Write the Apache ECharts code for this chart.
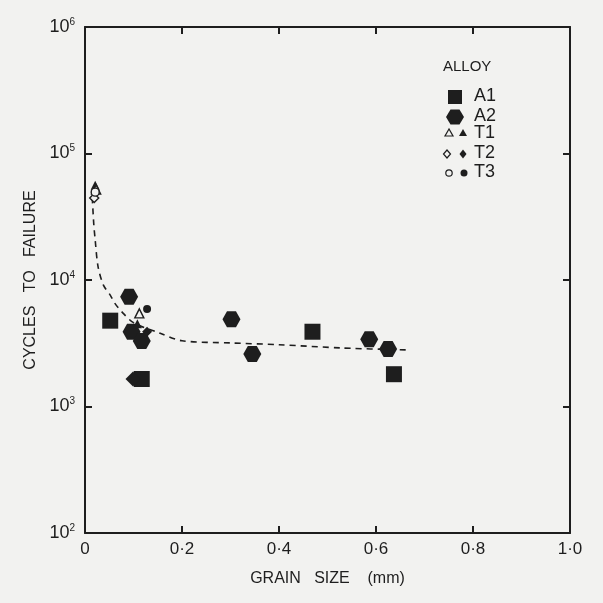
<!DOCTYPE html>
<html>
<head>
<meta charset="utf-8">
<script src="https://cdn.jsdelivr.net/npm/echarts@6/dist/echarts.min.js"></script>
<style>
  html, body { margin: 0; padding: 0; background: #f2f2f0; }
  #chart { width: 603px; height: 603px; }
</style>
</head>
<body>
<div id="chart"></div>
<script>
// grain size (mm), cycles to failure
var alloyA1 = [[0.052, 4770], [0.117, 1650], [0.469, 3900], [0.637, 1800]];
var alloyA2 = [[0.091, 7380], [0.096, 3900], [0.117, 3300], [0.302, 4890], [0.345, 2600], [0.586, 3400], [0.625, 2850]];
var t1Open = [[0.023, 52000], [0.112, 5450]];
var t1Filled = [[0.021, 56000], [0.108, 4500]];
var t2Open = [[0.019, 44500]];
var t2Filled = [[0.099, 1650], [0.128, 3900]];
var t3Open = [[0.021, 49500]];
var t3Filled = [[0.128, 5900]];
var fitCurve = [[0.015, 45000], [0.018, 28000], [0.021, 20700], [0.027, 12700], [0.038, 9100], [0.052, 7600],
  [0.062, 6500], [0.076, 5600], [0.10, 4600], [0.155, 3790], [0.20, 3310], [0.30, 3180], [0.40, 3080],
  [0.53, 2900], [0.666, 2800]];
var xTicks = [0, 0.2, 0.4, 0.6, 0.8, 1.0];

var ink = '#1e1e1e';
var paper = '#f2f2f0';
var hexPath = 'path://M-10,0L-5,-8.66L5,-8.66L10,0L5,8.66L-5,8.66Z';
var font = 'Liberation Sans';

function scatter(name, data, symbol, size, filled) {
  return {
    name: name, type: 'scatter', data: data, symbol: symbol, symbolSize: size,
    xAxisIndex: 0, yAxisIndex: 0,
    itemStyle: filled ? { color: ink, opacity: 1 } : { color: paper, borderColor: ink, borderWidth: 1.4, opacity: 1 },
    z: filled ? 4 : 5
  };
}

var chart = echarts.init(document.getElementById('chart'));
var axisLine = { show: true, onZero: false, lineStyle: { color: ink, width: 2 } };
var tick = { show: true, inside: true, length: 7, lineStyle: { color: ink, width: 2 } };

// legend block on the right
var lx = 455, legend = [
  { type: 'text', left: 443, top: 59, style: { text: 'ALLOY', font: '15px ' + font, fill: ink } },
  { type: 'rect', shape: { x: lx - 7, y: 90, width: 14, height: 14 }, style: { fill: ink } },
  { type: 'polygon', shape: { points: [[lx - 9, 117], [lx - 4.5, 109.5], [lx + 4.5, 109.5], [lx + 9, 117], [lx + 4.5, 124.5], [lx - 4.5, 124.5]] }, style: { fill: ink } },
  { type: 'polygon', shape: { points: [[449, 129], [445, 136], [453, 136]] }, style: { fill: paper, stroke: ink, lineWidth: 1.2 } },
  { type: 'polygon', shape: { points: [[463, 129], [459, 136], [467, 136]] }, style: { fill: ink } },
  { type: 'polygon', shape: { points: [[447, 150], [450.5, 154], [447, 158], [443.5, 154]] }, style: { fill: paper, stroke: ink, lineWidth: 1.2 } },
  { type: 'polygon', shape: { points: [[463, 149.5], [466.5, 154], [463, 158.5], [459.5, 154]] }, style: { fill: ink } },
  { type: 'circle', shape: { cx: 449, cy: 173, r: 3.2 }, style: { fill: paper, stroke: ink, lineWidth: 1.2 } },
  { type: 'circle', shape: { cx: 464, cy: 173, r: 3.5 }, style: { fill: ink } }
];
['A1', 'A2', 'T1', 'T2', 'T3'].forEach(function (t, i) {
  var ys = [97, 117, 134, 154, 173];
  legend.push({ type: 'text', left: 474, top: ys[i] - 10, style: { text: t, font: '18px ' + font, fill: ink } });
});

chart.setOption({
  backgroundColor: paper,
  animation: false,
  grid: { left: 85, right: 33, top: 27, bottom: 70 },
  xAxis: [{
    type: 'value', min: 0, max: 1, interval: 0.2, position: 'bottom',
    name: 'GRAIN   SIZE    (mm)', nameLocation: 'middle', nameGap: 38,
    nameTextStyle: { color: ink, fontSize: 16, fontFamily: font },
    axisLine: axisLine, axisTick: tick, splitLine: { show: false },
    axisLabel: {
      color: ink, fontSize: 17, fontFamily: font, margin: 8,
      formatter: function (v) { return v === 0 ? '0' : v.toFixed(1).replace('.', '·'); }
    }
  }, {
    type: 'value', min: 0, max: 1, interval: 0.2, position: 'top',
    axisLine: axisLine, axisTick: tick, axisLabel: { show: false }, splitLine: { show: false }
  }],
  yAxis: [{
    type: 'log', logBase: 10, min: 100, max: 1000000, position: 'left',
    name: 'CYCLES   TO   FAILURE', nameLocation: 'middle', nameGap: 45, nameRotate: 90,
    nameTextStyle: { color: ink, fontSize: 16, fontFamily: font },
    axisLine: axisLine, axisTick: tick, splitLine: { show: false }, minorTick: { show: false },
    axisLabel: {
      color: ink, fontSize: 18, fontFamily: font, margin: 10,
      formatter: function (v) { return '10{s|' + Math.round(Math.log10(v)) + '}'; },
      rich: { s: { fontSize: 10, fontFamily: font, color: ink, verticalAlign: 'top', padding: [0, 0, 10, 0] } }
    }
  }, {
    type: 'log', logBase: 10, min: 100, max: 1000000, position: 'right',
    axisLine: axisLine, axisTick: tick, axisLabel: { show: false }, splitLine: { show: false }
  }],
  graphic: legend,
  series: [
    {
      name: 'fit', type: 'line', data: fitCurve, smooth: 0.3, showSymbol: false, symbol: 'none',
      lineStyle: { color: ink, width: 1.6, type: [6, 5] }, z: 2
    },
    scatter('A1', alloyA1, 'rect', 16, true),
    scatter('A2', alloyA2, hexPath, [18, 16], true),
    scatter('T1 open', t1Open, 'triangle', 9, false),
    scatter('T1', t1Filled, 'triangle', 9, true),
    scatter('T2 open', t2Open, 'diamond', 9, false),
    scatter('T2', t2Filled, 'diamond', function (v) { return v[1] < 2000 ? 15 : 10; }, true),
    scatter('T3 open', t3Open, 'circle', 8, false),
    scatter('T3', t3Filled, 'circle', 8, true)
  ]
});
</script>
</body>
</html>
